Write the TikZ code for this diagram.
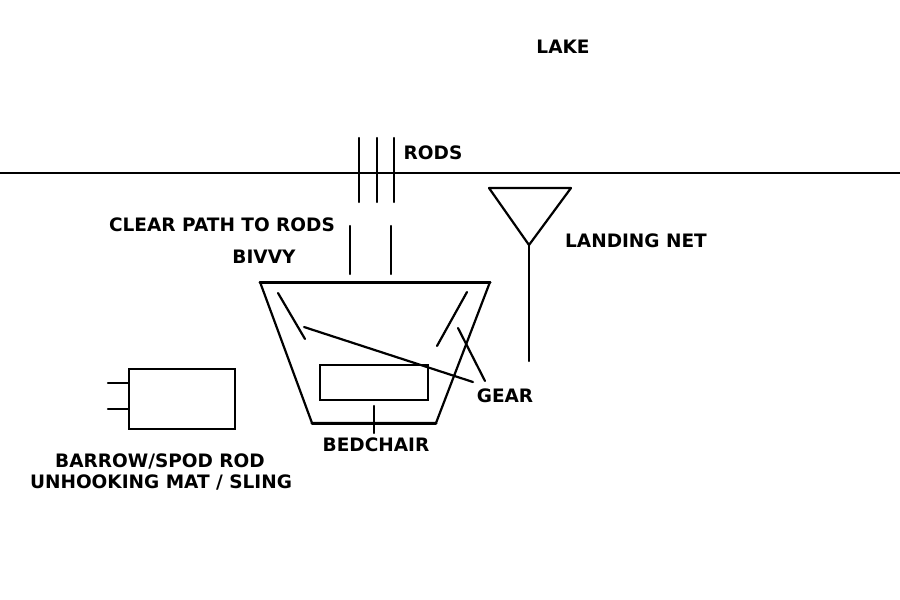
\documentclass[tikz,border=0pt]{standalone}
\usepackage{fontspec}
\setsansfont{DejaVu Sans}
\usepackage{tikz}
\usetikzlibrary{positioning,calc}
\tikzstyle{tag} = [font=\sffamily\bfseries\fontsize{18.5}{20}\selectfont, inner sep=0pt, text=black]
\tikzstyle{pen} = [line width=2.2pt, line cap=round, line join=round]
\tikzstyle{thickpen} = [line width=3pt, line cap=round]

\begin{document}
\begin{tikzpicture}[x=1pt, y=-1pt]
    \useasboundingbox[fill=white] (0,0) rectangle (900,600);

    % labels
    \node[tag] (lake) at (563,47) {LAKE};
    \node[tag] (rods) at (433,153) {RODS};
    \node[tag] (path) at (222,225) {CLEAR PATH TO RODS};
    \node[tag] (bivvy) at (264,257) {BIVVY};
    \node[tag] (net) at (636,241) {LANDING NET};
    \node[tag] (gear) at (505,396) {GEAR};
    \node[tag] (bedchair) at (376,445) {BEDCHAIR};
    \node[tag] (barrow) at (160,461) {BARROW/SPOD ROD};
    \node[tag] (mat) at (161,482) {UNHOOKING MAT / SLING};

    % bank
    \coordinate (bankL) at (0,173);
    \coordinate (bankR) at (900,173);
    \draw[line width=1.5pt] (bankL) -- (bankR);

    % rods
    \foreach \x in {359,377,394}
        \draw[pen] (\x,138) -- (\x,202);

    % clear path
    \foreach \x in {350,391}
        \draw[pen] (\x,226) -- (\x,274);

    % bivvy
    \coordinate (bivTL) at (260,282);
    \coordinate (bivTR) at (490,282);
    \coordinate (bivBR) at (436,423);
    \coordinate (bivBL) at (312,423);
    \draw[pen] (bivTR) -- (bivBR) -- (bivBL) -- (bivTL);
    \draw[thickpen] (bivTL) -- (bivTR);
    \draw[thickpen] (bivBL) -- (bivBR);

    % gear
    \coordinate (gearA) at (278,293);
    \coordinate (gearB) at (305,339);
    \coordinate (gearC) at (467,292);
    \coordinate (gearD) at (437,346);
    \coordinate (gearP) at (473,382);
    \coordinate (gearQ) at (485,381);
    \draw[pen] (gearA) -- (gearB);
    \draw[pen] (gearC) -- (gearD);
    \draw[pen] (304,327) -- (gearP);
    \draw[pen] (458,328) -- (gearQ);

    % bedchair
    \node[draw, line width=2.2pt, minimum width=108pt, minimum height=35pt, inner sep=0pt] (bed) at (374,382.5) {};
    \coordinate (bedP) at (374,433);
    \draw[pen] (374,406) -- (bedP);

    % landing net
    \coordinate (netL) at (489,188);
    \coordinate (netR) at (571,188);
    \coordinate (netV) at (529,245);
    \coordinate (netH) at (529,361);
    \draw[pen] (netL) -- (netR) -- (netV) -- cycle;
    \draw[pen] (netV) -- (netH);

    % barrow
    \node[draw, line width=2pt, minimum width=106pt, minimum height=60pt, inner sep=0pt] (cart) at (182,399) {};
    \draw[pen] ($(cart.west)+(0,-16)$) -- ++(-20,0);
    \draw[pen] ($(cart.west)+(0,10)$) -- ++(-20,0);
\end{tikzpicture}
\end{document}
